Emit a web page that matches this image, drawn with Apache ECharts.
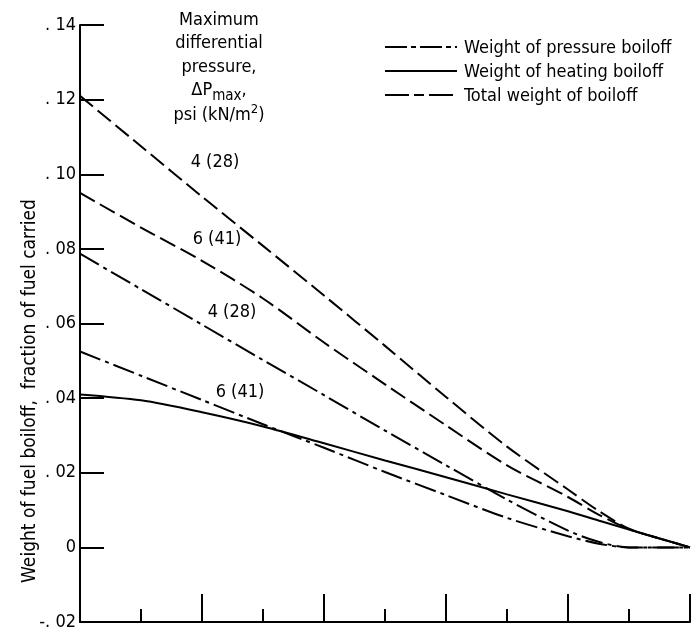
<!DOCTYPE html>
<html>
<head>
<meta charset="utf-8">
<script src="https://cdn.jsdelivr.net/npm/echarts@6/dist/echarts.min.js"></script>
<style>html,body{margin:0;padding:0;background:#fff}#c{width:696px;height:633px}</style>
</head>
<body>
<div id="c"></div>
<script>
// x positions (unlabelled axis, 0..10)
var xValues = [0, 1, 2, 3, 4, 5, 6, 7, 8, 8.5, 9, 9.5, 10];
// Total weight of boiloff
var total4 = [0.121, 0.1075, 0.094, 0.0808, 0.0675, 0.054, 0.0403, 0.027, 0.0155, 0.0098, 0.005, 0.0024, 0];
var total6 = [0.095, 0.0857, 0.0768, 0.0667, 0.0549, 0.0437, 0.0327, 0.022, 0.0135, 0.0088, 0.0049, 0.0024, 0];
// Weight of pressure boiloff
var pressure4 = [0.0787, 0.0692, 0.0597, 0.0502, 0.0408, 0.0313, 0.022, 0.0128, 0.0045, 0.0015, 0, 0, 0];
var pressure6 = [0.0525, 0.046, 0.0395, 0.033, 0.0267, 0.0202, 0.014, 0.0079, 0.003, 0.001, 0, 0, 0];
// Weight of heating boiloff
var heating = [0.041, 0.0394, 0.0362, 0.0324, 0.0279, 0.0233, 0.0188, 0.0142, 0.0097, 0.0072, 0.0048, 0.0024, 0];

var yTicks = ['-. 02', '0', '. 02', '. 04', '. 06', '. 08', '. 10', '. 12', '. 14'];
var seriesNames = ['Weight of pressure boiloff', 'Weight of heating boiloff', 'Total weight of boiloff'];
var curveLabels = ['4 (28)', '6 (41)', '4 (28)', '6 (41)'];
var titleLines = ['Maximum', 'differential', 'pressure,'];

var FONT = "'Liberation Sans Narrow', 'DejaVu Sans Condensed', 'Liberation Sans', sans-serif";
var FS = 18;

function pairs(ys) { return xValues.map(function (x, i) { return [x, ys[i]]; }); }

var dashTotal = [17, 6];
var dashPressure = [22, 5, 4, 5];

function mkSeries(name, ys, type) {
  return {
    name: name, type: 'line', data: pairs(ys), smooth: 0.3, symbol: 'none',
    lineStyle: { color: '#000', width: 2, type: type }, itemStyle: { color: '#000' },
    silent: true, animation: false
  };
}

function txt(x, y, s, extra) {
  var st = { text: s, fontFamily: FONT, fontSize: FS, fill: '#000', align: 'center', verticalAlign: 'middle' };
  if (extra) for (var k in extra) st[k] = extra[k];
  return { type: 'text', x: x, y: y, style: st, silent: true };
}

// legend drawn as graphic (line samples + text)
var legendRows = [
  { y: 47, dash: [22, 4, 5, 4], name: seriesNames[0] },
  { y: 71, dash: null, name: seriesNames[1] },
  { y: 95, dash: [24, 5, 10, 5], name: seriesNames[2] }
];
var legendGraphics = [];
legendRows.forEach(function (r) {
  legendGraphics.push({ type: 'line', shape: { x1: 385, y1: r.y, x2: 457, y2: r.y },
    style: { stroke: '#000', lineWidth: 2, lineDash: r.dash }, silent: true });
  legendGraphics.push(txt(464, r.y + 1, r.name, { align: 'left' }));
});

var chart = echarts.init(document.getElementById('c'), null, { renderer: 'canvas' });
chart.setOption({
  backgroundColor: '#fff',
  animation: false,
  textStyle: { fontFamily: FONT, color: '#000' },
  grid: { left: 80, right: 6, top: 25, bottom: 11, containLabel: false },
  xAxis: {
    type: 'value', min: 0, max: 10, interval: 2,
    axisLine: { show: true, onZero: false, lineStyle: { color: '#000', width: 2 } },
    axisTick: { show: true, inside: true, length: 28, lineStyle: { color: '#000', width: 2 } },
    minorTick: { show: true, splitNumber: 2, length: 13, lineStyle: { color: '#000', width: 2 } },
    axisLabel: { show: false }, splitLine: { show: false }
  },
  yAxis: {
    type: 'value', min: -0.02, max: 0.14, interval: 0.02,
    axisLine: { show: true, onZero: false, lineStyle: { color: '#000', width: 2 } },
    axisTick: { show: true, inside: true, length: 24, lineStyle: { color: '#000', width: 2 } },
    axisLabel: {
      fontFamily: FONT, fontSize: FS, color: '#000', margin: 4,
      formatter: function (v) { return yTicks[Math.round((v + 0.02) / 0.02)]; }
    },
    splitLine: { show: false }
  },
  graphic: [
    { type: 'text', x: 30, y: 391, rotation: Math.PI / 2, silent: true, style: {
        text: 'Weight of fuel boiloff,  fraction of fuel carried', fontFamily: FONT, fontSize: 19,
        fill: '#000', align: 'center', verticalAlign: 'middle' } },
    txt(219, 20, titleLines[0]),
    txt(219, 43, titleLines[1]),
    txt(219, 67, titleLines[2]),
    txt(219, 90, 'ΔP{s|max},', { rich: { s: { fontFamily: FONT, fontSize: 15, fill: '#000', padding: [12, 0, 0, 0] } } }),
    txt(219, 115, 'psi (kN/m{p|2})', { rich: { p: { fontFamily: FONT, fontSize: 13, fill: '#000', padding: [0, 0, 10, 0] } } }),
    txt(215, 162, curveLabels[0]),
    txt(217, 239, curveLabels[1]),
    txt(232, 312, curveLabels[2]),
    txt(240, 392, curveLabels[3])
  ].concat(legendGraphics),
  series: [
    mkSeries(seriesNames[2], total4, dashTotal),
    mkSeries(seriesNames[2], total6, dashTotal),
    mkSeries(seriesNames[0], pressure4, dashPressure),
    mkSeries(seriesNames[0], pressure6, dashPressure),
    mkSeries(seriesNames[1], heating, 'solid')
  ]
});
</script>
</body>
</html>
